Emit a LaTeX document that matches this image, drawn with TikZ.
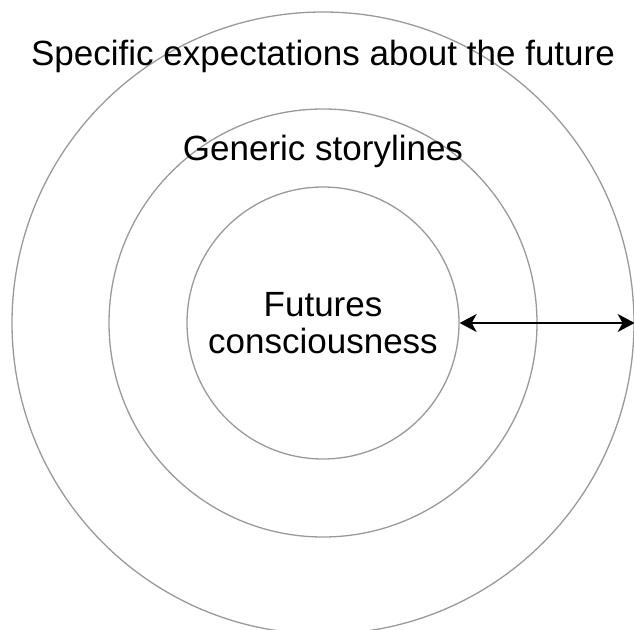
\documentclass[tikz,border=0pt]{standalone}
\usepackage{fontspec}
\setmainfont{Liberation Sans}
\usetikzlibrary{shapes,positioning,arrows.meta}

\begin{document}
\begin{tikzpicture}[x=1pt, y=-1pt]
      \tikzstyle{ring} = [circle, draw=black!40, line width=1.3pt, inner sep=0pt]
      \tikzstyle{word} = [font=\fontsize{35}{36.6}\selectfont, color=black, inner sep=0pt]
      \useasboundingbox (0,0) rectangle (634,629);
      \coordinate (C) at (323,323);
      \node (OUTER) [ring, minimum size=622pt] at (C) {};
      \node (MIDDLE) [ring, minimum size=428pt] at (C) {};
      \node (INNER) [ring, minimum size=272pt] at (C) {};
      % ring labels
      \node (specific) [word, anchor=base] at (323,65) {Specific expectations about the future};
      \node (generic) [word, anchor=base] at (323,160) {Generic storylines};
      \node (core) [word, align=center] at (C) {Futures\\consciousness};
      \draw [{Stealth[length=17pt,width=18pt,inset=5pt]}-{Stealth[length=17pt,width=18pt,inset=5pt]}, line width=2pt]
        (INNER.east) -- (OUTER.east);
    \end{tikzpicture}
\end{document}
